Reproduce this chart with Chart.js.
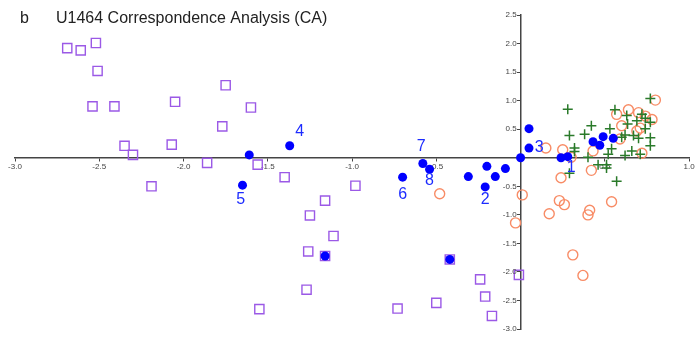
<!DOCTYPE html>
<html>
<head>
<meta charset="utf-8">
<script src="https://cdn.jsdelivr.net/npm/chart.js@4/dist/chart.umd.min.js"></script>
<style>
  html, body { margin: 0; padding: 0; background: #fff; }
  #wrap { width: 697px; height: 337px; }
</style>
</head>
<body>
<div id="wrap"><canvas id="ca" width="697" height="337"></canvas></div>
<script>
/* ── data ── */
const xTicks = [-3.0, -2.5, -2.0, -1.5, -1.0, -0.5, 0, 0.5, 1.0];
const yTicks = [-3.0, -2.5, -2.0, -1.5, -1.0, -0.5, 0, 0.5, 1.0, 1.5, 2.0, 2.5];

// purple open squares
const sqX = [-2.69, -2.61, -2.52, -2.51, -2.54, -2.41, -2.05, -1.75, -1.60, -1.77, -2.35, -2.30, -2.07, -1.86, -1.56, -2.19,
             -1.40, -0.98, -1.16, -1.25, -1.11, -1.26, -1.16, -1.27, -1.55, -0.73, -0.50, -0.42, -0.24, -0.21, -0.17, -0.01];
const sqY = [1.92, 1.88, 2.01, 1.52, 0.90, 0.90, 0.98, 1.27, 0.88, 0.55, 0.21, 0.05, 0.23, -0.09, -0.12, -0.50,
             -0.34, -0.49, -0.75, -1.01, -1.37, -1.64, -1.72, -2.31, -2.65, -2.64, -2.54, -1.78, -2.13, -2.43, -2.77, -2.05];

// orange open circles
const ciX = [0.15, 0.25, 0.30, 0.24, 0.42, 0.43, 0.80, 0.64, 0.57, 0.70, 0.74, 0.78, 0.60, 0.71, 0.69, 0.59, 0.72,
             0.01, -0.48, -0.03, 0.17, 0.23, 0.26, 0.41, 0.40, 0.54, 0.31, 0.37];
const ciY = [0.17, 0.14, 0.01, -0.35, -0.22, 0.12, 1.01, 0.84, 0.76, 0.79, 0.73, 0.67, 0.56, 0.52, 0.47, 0.33, 0.08,
             -0.65, -0.63, -1.14, -0.98, -0.75, -0.82, -0.92, -1.00, -0.77, -1.70, -2.06];

// green crosses
const crX = [0.28, 0.29, 0.42, 0.53, 0.56, 0.38, 0.32, 0.32, 0.40, 0.46, 0.51, 0.51, 0.29, 0.54, 0.52, 0.57,
             0.77, 0.63, 0.72, 0.74, 0.77, 0.69, 0.635, 0.74, 0.62, 0.67, 0.60, 0.70, 0.77, 0.77, 0.66, 0.62, 0.71];
const crY = [0.85, 0.39, 0.56, 0.51, 0.84, 0.41, 0.17, 0.11, 0.01, -0.12, -0.12, -0.18, -0.27, 0.16, 0.06, -0.41,
             1.04, 0.74, 0.76, 0.69, 0.62, 0.65, 0.59, 0.51, 0.40, 0.39, 0.36, 0.34, 0.35, 0.21, 0.12, 0.04, 0.06];

// blue filled dots
const dtX = [-1.61, -1.37, -1.65, -0.70, -0.58, -0.54, -0.31, -0.21, -0.20, -0.15, -0.09, 0.00, 0.05, 0.05,
             0.24, 0.28, 0.43, 0.47, 0.49, 0.55, -1.16, -0.42];
const dtY = [0.05, 0.21, -0.48, -0.34, -0.10, -0.20, -0.33, -0.51, -0.15, -0.33, -0.19, 0.00, 0.51, 0.17,
             0.00, 0.02, 0.28, 0.22, 0.37, 0.34, -1.72, -1.78];

// numbered labels (text + data position)
const lbText = ['1', '2', '3', '4', '5', '6', '7', '8'];
const lbX = [0.30, -0.21, 0.11, -1.31, -1.66, -0.70, -0.59, -0.54];
const lbY = [-0.17, -0.73, 0.17, 0.45, -0.73, -0.65, 0.19, -0.40];

const pts = (xs, ys) => xs.map((x, i) => ({ x, y: ys[i] }));
const tickFmt = v => v === 0 ? '' : v.toFixed(1);
const FONT = '"Liberation Sans", Arial, sans-serif';

/* ── title, y tick labels, number labels ── */
const overlay = {
  id: 'overlay',
  afterDatasetsDraw(chart) {
    const { ctx, scales: { x, y } } = chart;
    ctx.save();
    ctx.fillStyle = '#1d2cff';
    ctx.font = '16px ' + FONT;
    ctx.textAlign = 'center';
    ctx.textBaseline = 'middle';
    lbText.forEach((t, i) => ctx.fillText(t, x.getPixelForValue(lbX[i]), y.getPixelForValue(lbY[i])));

    // y tick labels sit left of the centred axis
    ctx.fillStyle = '#444';
    ctx.font = '8px ' + FONT;
    ctx.textAlign = 'right';
    const ax = x.getPixelForValue(0) - 4;
    yTicks.forEach(v => ctx.fillText(tickFmt(v), ax, y.getPixelForValue(v)));
    ctx.restore();
  },
  afterDraw(chart) {
    const ctx = chart.ctx;
    ctx.save();
    ctx.fillStyle = '#222';
    ctx.font = '16px ' + FONT;
    ctx.textBaseline = 'alphabetic';
    ctx.fillText('b', 20, 23);
    ctx.fillText('U1464 Correspondence Analysis (CA)', 56, 23);
    ctx.restore();
  }
};

const axisCommon = {
  type: 'linear',
  grid: { drawOnChartArea: false, drawTicks: true, tickLength: 3, color: '#444', lineWidth: 1 },
  border: { display: true, color: '#444', width: 1.5 },
  ticks: { stepSize: 0.5, color: '#444', padding: 1, font: { size: 8, family: FONT }, callback: tickFmt }
};

new Chart(document.getElementById('ca'), {
  type: 'scatter',
  data: {
    datasets: [
      { label: 'dots', data: pts(dtX, dtY), order: 0, pointStyle: 'circle', pointRadius: 4.5,
        backgroundColor: '#0000ff', borderColor: '#0000ff', borderWidth: 0 },
      { label: 'cross', data: pts(crX, crY), order: 1, pointStyle: 'cross', pointRadius: 5,
        backgroundColor: 'transparent', borderColor: '#2a7a2a', borderWidth: 1.5 },
      { label: 'circle', data: pts(ciX, ciY), order: 2, pointStyle: 'circle', pointRadius: 5,
        backgroundColor: 'transparent', borderColor: '#f88c66', borderWidth: 1.4 },
      { label: 'square', data: pts(sqX, sqY), order: 3, pointStyle: 'rect', pointRadius: 6.5,
        backgroundColor: 'transparent', borderColor: '#9b59e6', borderWidth: 1.4 }
    ]
  },
  options: {
    responsive: false,
    animation: false,
    layout: { padding: { left: 15, right: 7, top: 15, bottom: 7 } },
    plugins: { legend: { display: false }, tooltip: { enabled: false } },
    scales: {
      x: { ...axisCommon, min: xTicks[0], max: xTicks[xTicks.length - 1], position: { y: 0 } },
      y: { ...axisCommon, min: yTicks[0], max: yTicks[yTicks.length - 1], position: { x: 0 },
           ticks: { ...axisCommon.ticks, callback: () => '' } }
    }
  },
  plugins: [overlay]
});
</script>
</body>
</html>
